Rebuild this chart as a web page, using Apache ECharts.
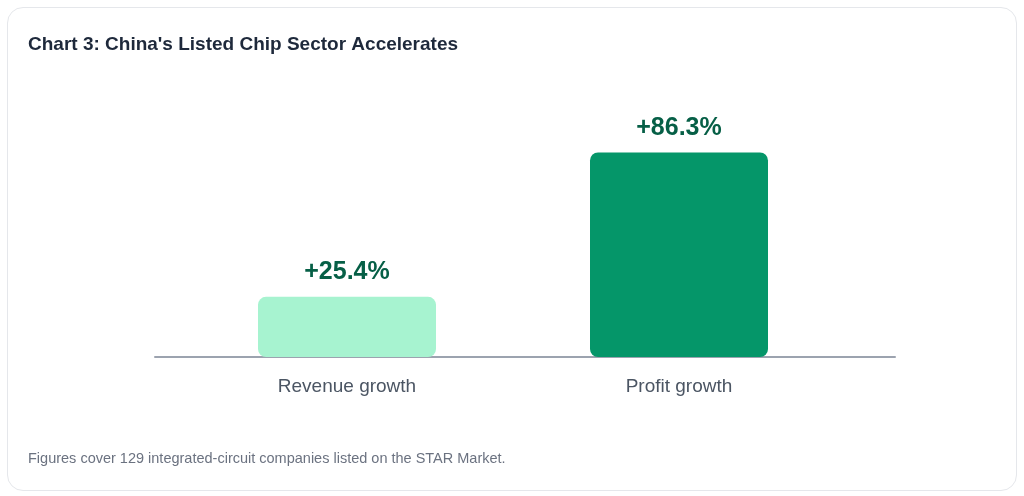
<!DOCTYPE html>
<html>
<head>
<meta charset="utf-8">
<script src="https://cdn.jsdelivr.net/npm/echarts@6/dist/echarts.min.js"></script>
<style>
html,body{margin:0;padding:0;background:#fff;}
#card{position:absolute;left:7px;top:7px;width:1008px;height:482px;border:1px solid #e5e7eb;border-radius:16px;background:#fff;}
#main{position:absolute;left:0;top:0;width:1024px;height:496px;}
</style>
</head>
<body>
<div id="card"></div>
<div id="main"></div>
<script>
'use strict';
var categories = ['Revenue growth', 'Profit growth'];
var growthValues = [25.4, 86.3];
var barColors = ['#a7f3d0', '#059669'];
var titleText = "Chart 3: China's Listed Chip Sector Accelerates";
var noteText = 'Figures cover 129 integrated-circuit companies listed on the STAR Market.';

window.onload = function () {
	var myChart = echarts.init(document.getElementById('main'), null, {renderer: 'canvas'});

	var barData = [];
	for (var i = 0; i < growthValues.length; i++) {
		barData.push({value: growthValues[i], itemStyle: {color: barColors[i]}});
	}

	var font = '"Liberation Sans", Arial, Helvetica, sans-serif';

	var option = {
		animation: false,
		backgroundColor: 'transparent',
		textStyle: {fontFamily: font},
		title: [
			{
				text: titleText,
				left: 23, top: 30,
				textStyle: {fontSize: 19, fontWeight: 'bold', color: '#1e293b', fontFamily: font}
			},
			{
				text: noteText,
				left: 23, top: 446,
				textStyle: {fontSize: 14.5, fontWeight: 'normal', color: '#6b7280', fontFamily: font}
			}
		],
		grid: [
			// bars
			{left: 181, right: 179, top: 120, bottom: 139},
			// wider base line
			{left: 155, right: 129, top: 120, bottom: 139}
		],
		xAxis: [
			{
				type: 'category', gridIndex: 0,
				data: categories,
				axisLine: {show: false},
				axisTick: {show: false},
				axisLabel: {fontSize: 19, color: '#4b5563', margin: 20, fontFamily: font}
			},
			{
				type: 'category', gridIndex: 1,
				data: [''],
				axisLine: {show: true, lineStyle: {color: '#9ca3af', width: 2}},
				axisTick: {show: false},
				axisLabel: {show: false}
			}
		],
		yAxis: [
			{type: 'value', gridIndex: 0, min: 0, max: 100, show: false},
			{type: 'value', gridIndex: 1, min: 0, max: 100, show: false}
		],
		series: [
			{
				type: 'bar',
				xAxisIndex: 0, yAxisIndex: 0,
				data: barData,
				barWidth: 178,
				itemStyle: {borderRadius: 8},
				label: {
					show: true,
					position: 'top',
					distance: 12,
					fontSize: 25,
					fontWeight: 'bold',
					color: '#065f46',
					fontFamily: font,
					formatter: function (p) { return '+' + p.value.toFixed(1) + '%'; }
				}
			}
		]
	};
	myChart.setOption(option);
};
</script>
</body>
</html>
